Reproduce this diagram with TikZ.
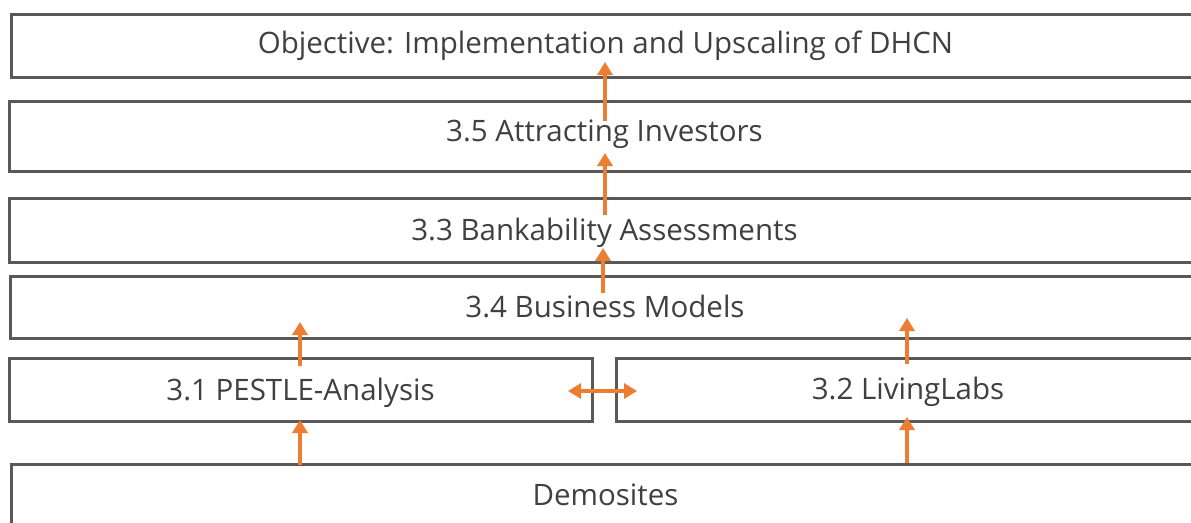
\documentclass[tikz,border=0pt]{standalone}
\usepackage{fontspec}
\setmainfont{Open Sans}
\usetikzlibrary{arrows.meta}
\definecolor{boxgray}{HTML}{595959}
\definecolor{txtgray}{HTML}{404040}
\definecolor{arrorange}{HTML}{ED7D31}
\tikzset{
  box/.style={draw=boxgray, line width=3pt, fill=white, inner sep=0pt, text=txtgray,
    font=\fontsize{29.5}{34}\selectfont, text height=21pt, text depth=0pt},
  arr/.style={draw=arrorange, line width=4pt, -{Triangle[length=13pt,width=15pt]}},
  biarr/.style={draw=arrorange, line width=4pt, {Triangle[length=13pt,width=15pt]}-{Triangle[length=13pt,width=15pt]}},
}
\begin{document}
\begin{tikzpicture}[x=1pt,y=-1pt]
\useasboundingbox (0,0) rectangle (1191,522);
\clip (0,0) rectangle (1191,522);
\node[box, minimum width=1189pt, minimum height=63pt] (obj) at (605.5,45.5) {\raisebox{2.5pt}{Objective: Implementation and Upscaling of DHCN}};
\node[box, minimum width=1191pt, minimum height=70pt] (inv) at (604.5,136) {\raisebox{5pt}{3.5 Attracting Investors}};
\node[box, minimum width=1191pt, minimum height=64pt] (bank) at (604.5,230) {3.3 Bankability Assessments};
\node[box, minimum width=1190pt, minimum height=62pt] (bus) at (605,307) {3.4 Business Models};
\node[box, minimum width=583pt, minimum height=63pt] (pestle) at (300.5,389.5) {3.1 PESTLE-Analysis};
\node[box, minimum width=584pt, minimum height=63pt] (living) at (908,389.5) {\raisebox{0.5pt}{3.2 LivingLabs}};
\node[box, minimum width=1189pt, minimum height=70pt] (demo) at (605.5,499) {\raisebox{4pt}{Demosites}};
% arrow end points
\coordinate (a1s) at (605,121);
\coordinate (a1e) at (605,62);
\coordinate (a2s) at (605,215);
\coordinate (a2e) at (605,153);
\coordinate (a3s) at (603,293);
\coordinate (a3e) at (603,248);
\coordinate (a4s) at (300,366);
\coordinate (a4e) at (300,322);
\coordinate (a5s) at (300,465);
\coordinate (a5e) at (300,420);
\coordinate (a6s) at (907,364);
\coordinate (a6e) at (907,318);
\coordinate (a7s) at (907,463);
\coordinate (a7e) at (907,417);
\coordinate (bl) at (568,391);
\coordinate (br) at (637,391);
\draw[arr] (a1s) -- (a1e);
\draw[arr] (a2s) -- (a2e);
\draw[arr] (a3s) -- (a3e);
\draw[arr] (a4s) -- (a4e);
\draw[arr] (a5s) -- (a5e);
\draw[arr] (a6s) -- (a6e);
\draw[arr] (a7s) -- (a7e);
\draw[biarr] (bl) -- (br);
\end{tikzpicture}
\end{document}
